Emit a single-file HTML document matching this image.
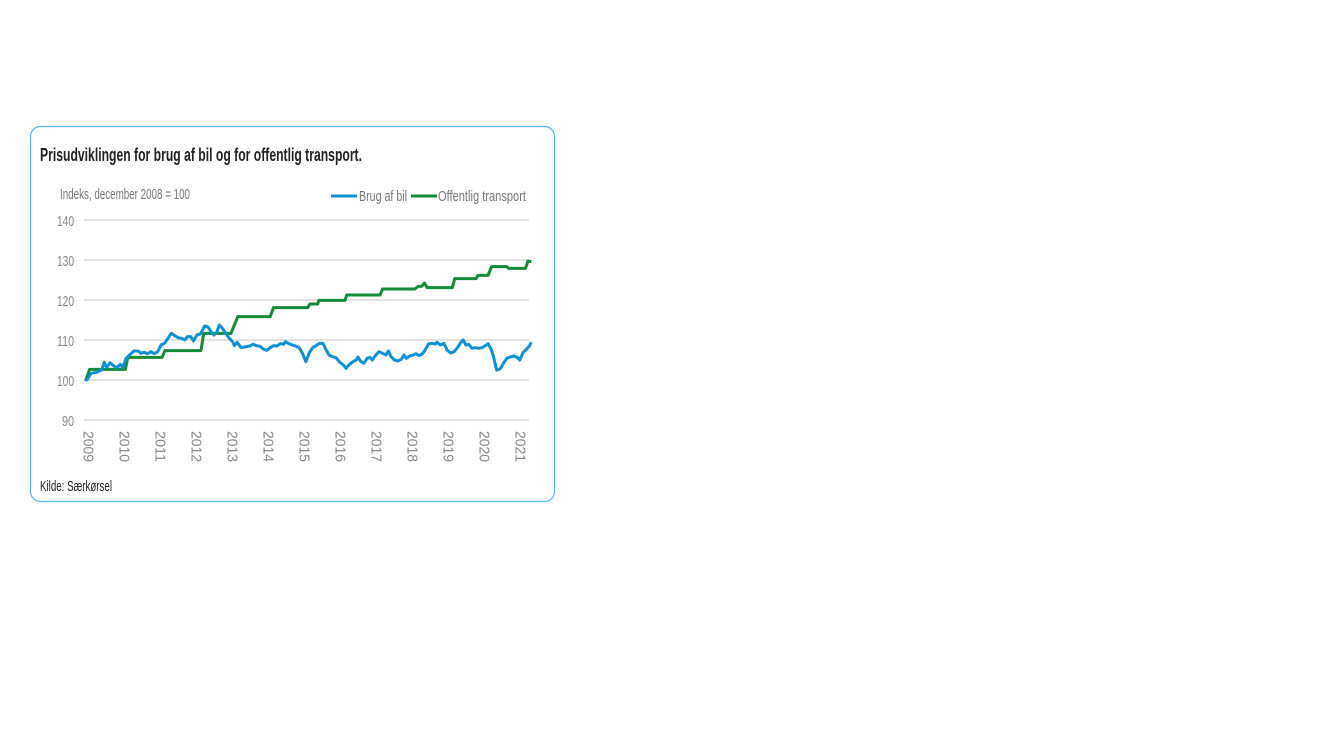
<!DOCTYPE html>
<html><head><meta charset="utf-8"><style>html,body{margin:0;padding:0;background:#fff;}svg{display:block}</style></head>
<body>
<svg width="1333" height="750" viewBox="0 0 1333 750" xmlns="http://www.w3.org/2000/svg" font-family="'Liberation Sans', Arial, sans-serif">
<rect x="30.5" y="126.5" width="524" height="375" rx="10" fill="#fff" stroke="#5ab4e8" stroke-width="1.2"/>
<text x="40" y="161" font-size="18" font-weight="bold" fill="#222" textLength="322" lengthAdjust="spacingAndGlyphs">Prisudviklingen for brug af bil og for offentlig transport.</text>
<text x="60" y="199" font-size="14.5" fill="#777" textLength="130" lengthAdjust="spacingAndGlyphs">Indeks, december 2008 = 100</text>
<line x1="331" y1="196" x2="357" y2="196" stroke="#0e90d6" stroke-width="3"/>
<text x="359" y="201" font-size="14.5" fill="#777" textLength="48" lengthAdjust="spacingAndGlyphs">Brug af bil</text>
<line x1="411" y1="196" x2="437" y2="196" stroke="#148a3a" stroke-width="3"/>
<text x="438" y="201" font-size="14.5" fill="#777" textLength="88" lengthAdjust="spacingAndGlyphs">Offentlig transport</text>
<g stroke="#d0d0d0" stroke-width="1.2">
<line x1="84" y1="220" x2="529" y2="220"/><line x1="84" y1="260" x2="529" y2="260"/><line x1="84" y1="300" x2="529" y2="300"/><line x1="84" y1="340" x2="529" y2="340"/><line x1="84" y1="380" x2="529" y2="380"/><line x1="84" y1="420" x2="529" y2="420"/>
</g>
<g font-size="15" fill="#888" text-anchor="end">
<text x="74" y="226" textLength="17" lengthAdjust="spacingAndGlyphs">140</text><text x="74" y="266" textLength="17" lengthAdjust="spacingAndGlyphs">130</text><text x="74" y="306" textLength="17" lengthAdjust="spacingAndGlyphs">120</text><text x="74" y="346" textLength="17" lengthAdjust="spacingAndGlyphs">110</text><text x="74" y="386" textLength="17" lengthAdjust="spacingAndGlyphs">100</text><text x="74" y="426" textLength="12" lengthAdjust="spacingAndGlyphs">90</text>
</g>
<g font-size="15" fill="#888">
<text transform="translate(83.5,431) rotate(90)" textLength="31" lengthAdjust="spacingAndGlyphs">2009</text>
<text transform="translate(119.5,431) rotate(90)" textLength="31" lengthAdjust="spacingAndGlyphs">2010</text>
<text transform="translate(155.5,431) rotate(90)" textLength="31" lengthAdjust="spacingAndGlyphs">2011</text>
<text transform="translate(191.5,431) rotate(90)" textLength="31" lengthAdjust="spacingAndGlyphs">2012</text>
<text transform="translate(227.5,431) rotate(90)" textLength="31" lengthAdjust="spacingAndGlyphs">2013</text>
<text transform="translate(263.5,431) rotate(90)" textLength="31" lengthAdjust="spacingAndGlyphs">2014</text>
<text transform="translate(299.5,431) rotate(90)" textLength="31" lengthAdjust="spacingAndGlyphs">2015</text>
<text transform="translate(335.5,431) rotate(90)" textLength="31" lengthAdjust="spacingAndGlyphs">2016</text>
<text transform="translate(371.5,431) rotate(90)" textLength="31" lengthAdjust="spacingAndGlyphs">2017</text>
<text transform="translate(407.5,431) rotate(90)" textLength="31" lengthAdjust="spacingAndGlyphs">2018</text>
<text transform="translate(443.5,431) rotate(90)" textLength="31" lengthAdjust="spacingAndGlyphs">2019</text>
<text transform="translate(479.5,431) rotate(90)" textLength="31" lengthAdjust="spacingAndGlyphs">2020</text>
<text transform="translate(515.5,431) rotate(90)" textLength="31" lengthAdjust="spacingAndGlyphs">2021</text>
</g>
<text x="40" y="491" font-size="15" fill="#222" textLength="72" lengthAdjust="spacingAndGlyphs">Kilde: Særkørsel</text>
<g transform="translate(30,125) scale(0.3406,0.3333333)" fill="none" stroke-linejoin="round">
<polyline vector-effect="non-scaling-stroke" stroke="#148a3a" stroke-width="3" points="163,768 175,733 280,733 287,697 388,697 396,677 502,677 510,625 590,625 610,575 705,575 715,548 815,548 822,537 845,537 848,526 925,526 930,510 1028,510 1035,492 1130,492 1140,484 1150,484 1158,474 1166,488 1240,488 1247,461 1310,461 1315,451 1345,451 1355,425 1400,425 1405,430 1455,430 1462,408 1472,410"/>
<polyline vector-effect="non-scaling-stroke" stroke="#0e90d6" stroke-width="3" points="163,768 170,760 180,745 195,742 210,735 218,712 225,728 235,713 245,722 255,728 265,718 272,728 282,700 292,690 305,678 318,678 325,685 335,682 345,686 355,680 365,686 375,680 385,660 395,655 405,640 415,625 425,632 435,638 445,640 455,645 462,635 472,635 480,648 490,630 500,627 513,603 523,606 530,618 540,630 548,622 556,600 565,610 575,625 585,640 595,650 600,662 608,652 620,668 630,666 645,663 655,658 665,662 675,664 685,672 695,676 705,668 715,662 725,663 735,656 745,658 750,650 760,656 770,660 780,663 790,668 800,685 810,710 820,683 830,668 840,662 850,655 860,655 868,672 878,690 888,695 898,698 910,712 920,720 928,730 938,718 948,710 958,705 963,696 970,708 980,715 990,700 998,697 1005,705 1015,690 1025,680 1035,685 1045,690 1052,678 1060,695 1070,705 1080,708 1090,703 1098,690 1105,700 1115,693 1125,690 1133,686 1143,692 1153,686 1160,675 1170,657 1180,655 1190,657 1195,652 1205,660 1215,655 1225,676 1235,684 1245,680 1255,668 1265,652 1272,645 1280,660 1288,658 1298,670 1308,668 1318,670 1328,668 1340,660 1345,656 1355,675 1362,700 1370,735 1380,732 1390,715 1400,700 1410,696 1420,693 1430,697 1438,705 1448,682 1458,672 1465,665 1472,652"/>
</g>
</svg>
</body></html>
